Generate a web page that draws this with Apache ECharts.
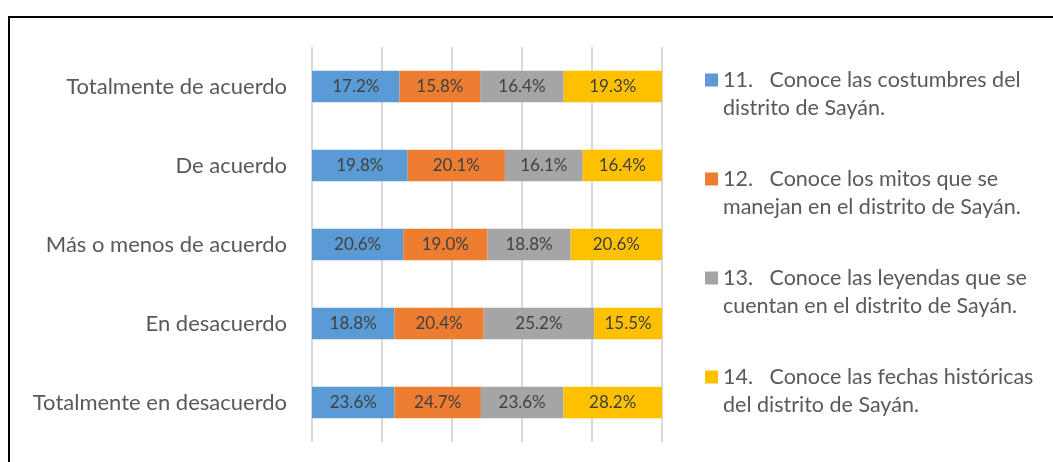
<!DOCTYPE html>
<html>
<head>
<meta charset="utf-8">
<script src="https://cdn.jsdelivr.net/npm/echarts@6/dist/echarts.min.js"></script>
<style>
    html, body { margin: 0; padding: 0; background: #fff; overflow: hidden; }
    #frame { position: absolute; left: 8px; top: 16px; width: 1100px; height: 500px;
             border-left: 2px solid #000; border-top: 2px solid #000; }
    #chart { position: absolute; left: 0; top: 0; width: 1053px; height: 462px; }
</style>
</head>
<body>
<div id="frame"></div>
<div id="chart"></div>
<script>
    "use strict";
    var categories = [
        'Totalmente de acuerdo',
        'De acuerdo',
        'Más o menos de acuerdo',
        'En desacuerdo',
        'Totalmente en desacuerdo'
    ];
    var seriesNames = [
        '11.   Conoce las costumbres del\ndistrito de Sayán.',
        '12.   Conoce los mitos que se\nmanejan en el distrito de Sayán.',
        '13.   Conoce las leyendas que se\ncuentan en el distrito de Sayán.',
        '14.   Conoce las fechas históricas\ndel distrito de Sayán.'
    ];
    var costumbres = [17.2, 19.8, 20.6, 18.8, 23.6];
    var mitos = [15.8, 20.1, 19.0, 20.4, 24.7];
    var leyendas = [16.4, 16.1, 18.8, 25.2, 23.6];
    var fechas = [19.3, 16.4, 20.6, 15.5, 28.2];
    var colors = ['#5B9BD5', '#ED7D31', '#A5A5A5', '#FFC000'];

    var allValues = [costumbres, mitos, leyendas, fechas];
    // 100% apilado: cada fila se reparte según su total
    var totals = categories.map(function (c, i) {
        var sum = 0;
        for (var s = 0; s < allValues.length; s++) {
            sum += allValues[s][i];
        }
        return sum;
    });

    var series = allValues.map(function (values, s) {
        return {
            name: seriesNames[s],
            type: 'bar',
            stack: 'total',
            barWidth: '40%',
            itemStyle: { color: colors[s] },
            label: {
                show: true,
                position: 'inside',
                color: '#404040',
                fontSize: 17,
                fontFamily: 'Lato',
                formatter: function (p) {
                    return p.data.raw.toFixed(1) + '%';
                }
            },
            data: values.map(function (v, i) {
                return { value: v / totals[i] * 100, raw: v };
            })
        };
    });

    var myChart = echarts.init(document.getElementById('chart'));
    myChart.setOption({
        animation: false,
        textStyle: { fontFamily: 'Lato' },
        grid: { left: 312, right: 391, top: 47, bottom: 20 },
        legend: {
            orient: 'vertical',
            left: 705,
            top: 66,
            padding: 0,
            itemWidth: 13,
            itemHeight: 41,
            itemGap: 43,
            icon: 'path://M0,0H13V13H0Z M0,41H13',
            textStyle: { color: '#595959', fontSize: 21.5, lineHeight: 28, fontFamily: 'Lato' },
            data: seriesNames,
            selectedMode: false
        },
        xAxis: {
            type: 'value',
            min: 0,
            max: 100,
            interval: 20,
            axisLabel: { show: false },
            axisLine: { show: false },
            axisTick: { show: false },
            splitLine: { lineStyle: { color: '#D9D9D9', width: 2 } }
        },
        yAxis: {
            type: 'category',
            inverse: true,
            data: categories,
            axisLine: { show: false },
            axisTick: { show: false },
            axisLabel: { color: '#595959', fontSize: 22, margin: 25, fontFamily: 'Lato' }
        },
        series: series
    });
</script>
</body>
</html>
